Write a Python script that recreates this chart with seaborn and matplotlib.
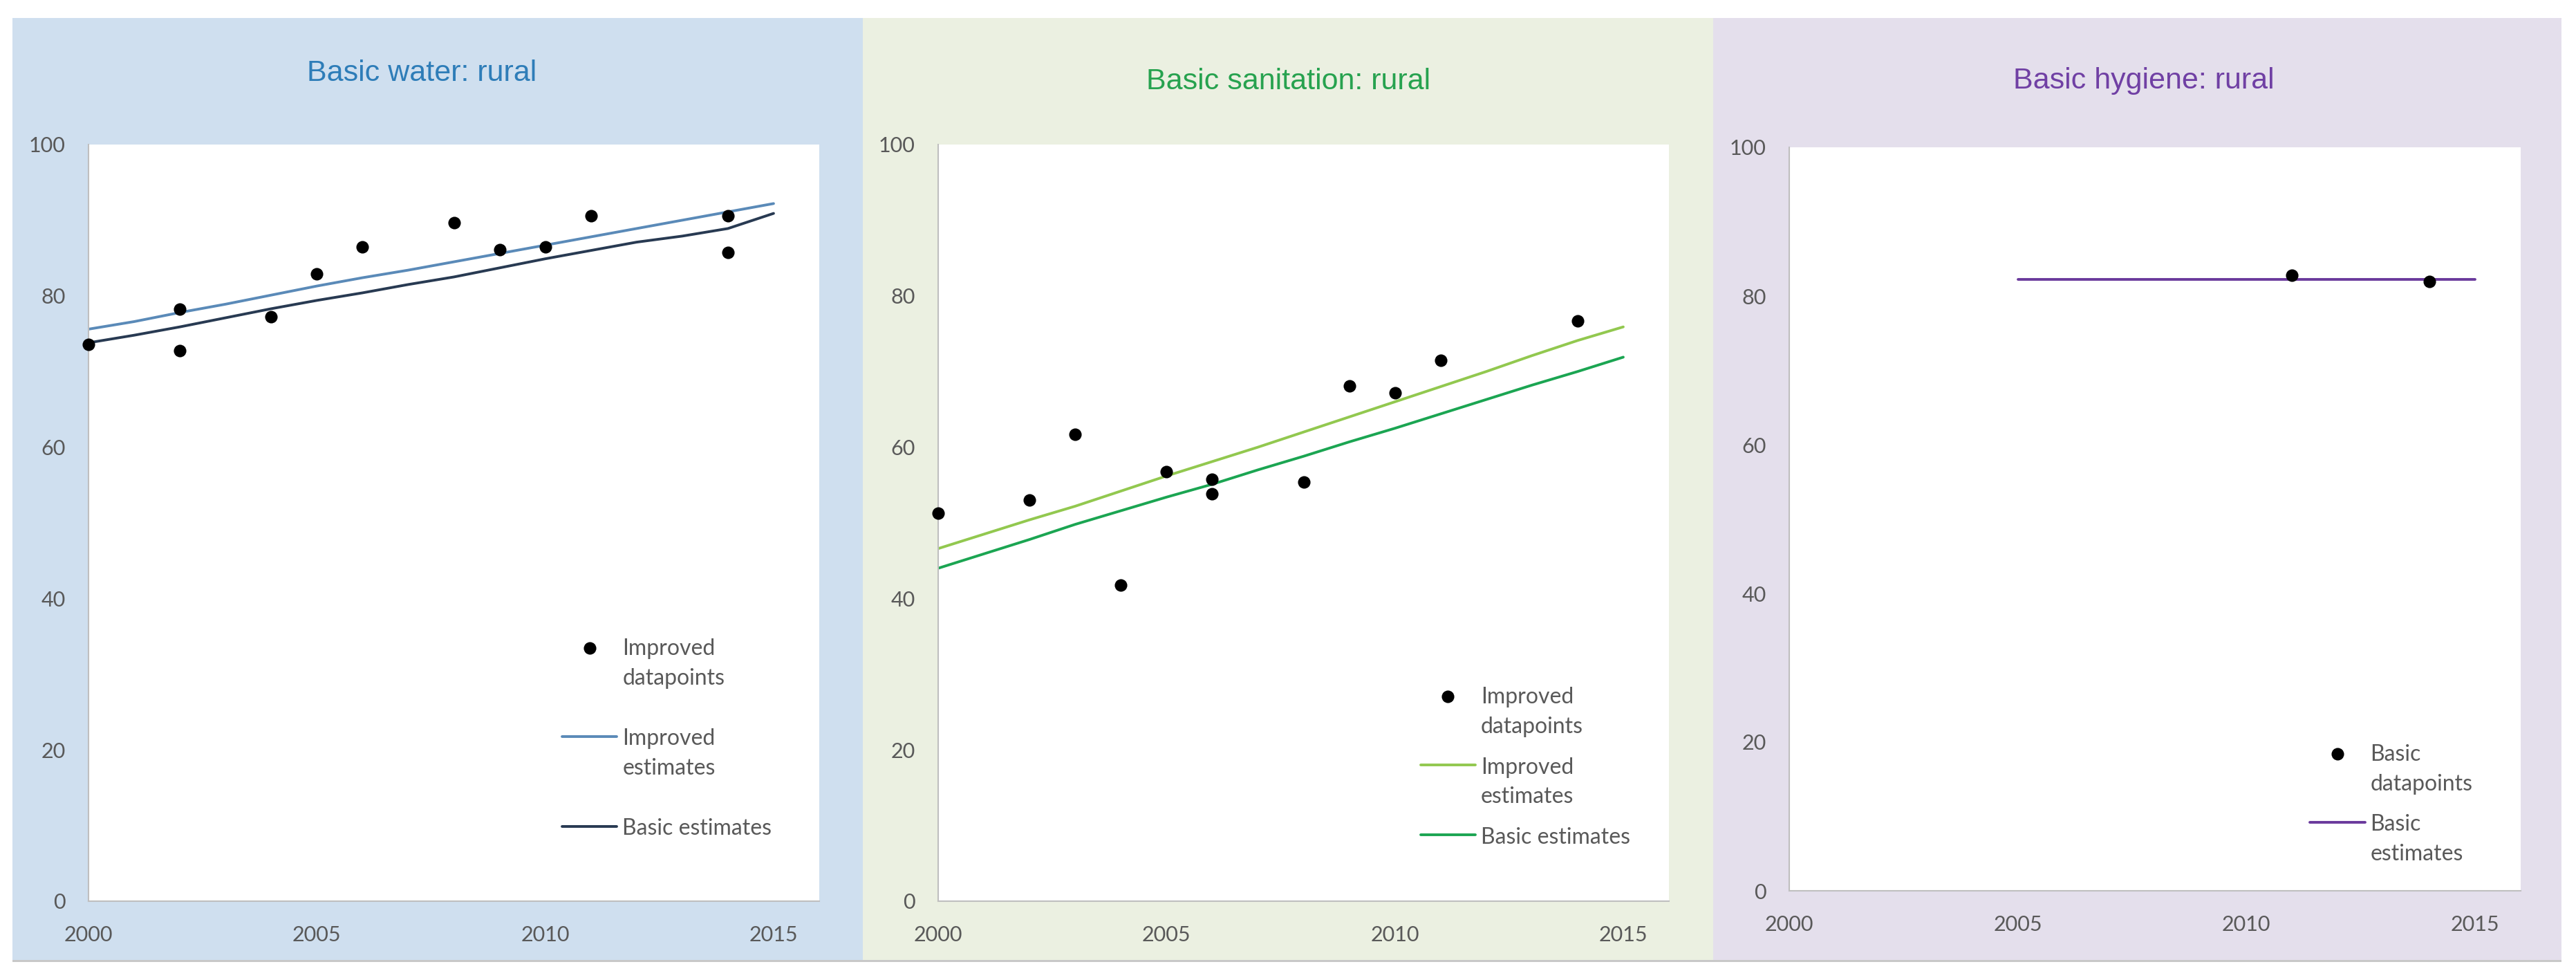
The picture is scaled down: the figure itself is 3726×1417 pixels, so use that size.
import matplotlib
matplotlib.use('Agg')
import matplotlib.pyplot as plt
import seaborn as sns
from matplotlib.patches import Rectangle

W, H = 3726, 1417

# --- data ---
est_years = [2000, 2001, 2002, 2003, 2004, 2005, 2006, 2007,
             2008, 2009, 2010, 2011, 2012, 2013, 2014, 2015]

water_pt_years = [2000, 2002, 2002, 2004, 2005, 2006, 2008, 2009, 2010, 2011, 2014, 2014]
water_pt_values = [73.6, 78.2, 72.8, 77.2, 82.9, 86.5, 89.7, 86.1, 86.5, 90.6, 90.6, 85.7]
water_improved = [75.6, 76.6, 77.8, 78.9, 80.1, 81.3, 82.4, 83.4,
                  84.5, 85.6, 86.7, 87.8, 88.9, 90.0, 91.1, 92.2]
water_basic = [73.8, 74.8, 75.9, 77.1, 78.3, 79.4, 80.4, 81.5,
               82.5, 83.7, 84.9, 86.0, 87.1, 87.9, 88.9, 90.9]

san_pt_years = [2000, 2002, 2003, 2004, 2005, 2006, 2006, 2008, 2009, 2010, 2011, 2014]
san_pt_values = [51.3, 53.0, 61.7, 41.8, 56.8, 55.8, 53.8, 55.4, 68.1, 67.2, 71.5, 76.7]
san_improved = [46.6, 48.5, 50.4, 52.2, 54.2, 56.2, 58.1, 60.0,
                62.0, 64.0, 66.0, 68.0, 70.0, 72.1, 74.1, 75.9]
san_basic = [44.0, 45.9, 47.8, 49.8, 51.6, 53.4, 55.1, 57.0,
             58.8, 60.7, 62.5, 64.4, 66.3, 68.2, 70.0, 71.9]

hyg_pt_years = [2011, 2014]
hyg_pt_values = [82.8, 82.0]
hyg_est_years = [2005, 2006, 2007, 2008, 2009, 2010, 2011, 2012, 2013, 2014, 2015]
hyg_basic = [82.2, 82.2, 82.2, 82.2, 82.2, 82.2, 82.2, 82.2, 82.2, 82.2, 82.2]

x_ticks = [2000, 2005, 2010, 2015]
y_ticks = [0, 20, 40, 60, 80, 100]

sns.set_style('white')
plt.rcParams['font.family'] = ['Lato', 'DejaVu Sans']

TICK_COLOR = '#595959'


def px_box(left, top, right, bottom):
    return [left / W, 1 - bottom / H, (right - left) / W, (bottom - top) / H]


fig = plt.figure(figsize=(W / 100, H / 100), dpi=100)

# panel backgrounds
panel_bgs = [(18, 1248, '#CFDFEF'), (1248, 2478, '#EBF0E1'), (2478, 3705, '#E4DFEC')]
for left, right, col in panel_bgs:
    fig.add_artist(Rectangle((left / W, 1 - 1388 / H), (right - left) / W, (1388 - 26) / H,
                             transform=fig.transFigure, facecolor=col, edgecolor='none', zorder=-2))
fig.add_artist(Rectangle((18 / W, 1 - 1391 / H), (3705 - 18) / W, 3 / H,
                         transform=fig.transFigure, facecolor='#C8C8C8', edgecolor='none', zorder=-2))


def style_axes(ax):
    ax.set_xlim(2000, 2016)
    ax.set_ylim(0, 100)
    ax.set_xticks(x_ticks)
    ax.set_yticks(y_ticks)
    ax.set_xlabel('')
    ax.set_ylabel('')
    ax.grid(False)
    ax.set_facecolor('white')
    for side in ['top', 'right']:
        ax.spines[side].set_visible(False)
    for side in ['left', 'bottom']:
        ax.spines[side].set_color('#BFBFBF')
        ax.spines[side].set_linewidth(1.5)
    ax.tick_params(axis='y', length=0, pad=24, labelsize=22, labelcolor=TICK_COLOR)
    ax.tick_params(axis='x', length=0, pad=25, labelsize=22, labelcolor=TICK_COLOR)


def add_legend(ax, anchor, spacing):
    leg = ax.legend(loc='upper left', bbox_to_anchor=anchor, frameon=False, fontsize=23,
                    handlelength=2.48, handletextpad=0.25, labelspacing=spacing,
                    borderpad=0, borderaxespad=0, labelcolor=TICK_COLOR)
    for t in leg.get_texts():
        t.set_linespacing(1.52)
    # put the key next to the first text line, like the original
    for col in leg._legend_handle_box.get_children():
        for row in col.get_children():
            row.align = 'top'
    return leg


# Panel 1: water
ax1 = fig.add_axes(px_box(128, 209, 1185, 1303))
sns.scatterplot(x=water_pt_years, y=water_pt_values, ax=ax1, color='black', s=170,
                linewidth=0, zorder=3, clip_on=False, label='Improved\ndatapoints')
sns.lineplot(x=est_years, y=water_improved, ax=ax1, color='#5A8AB8', linewidth=2.8,
             errorbar=None, label='Improved\nestimates')
sns.lineplot(x=est_years, y=water_basic, ax=ax1, color='#283A52', linewidth=2.8,
             errorbar=None, label='Basic estimates')
style_axes(ax1)
add_legend(ax1, (0.648, 0.347), 1.8)
fig.text(610 / W, 1 - 117 / H, 'Basic water: rural', ha='center', va='baseline',
         fontsize=31, color='#2E7DB8', family=['Liberation Sans', 'DejaVu Sans'])

# Panel 2: sanitation
ax2 = fig.add_axes(px_box(1357, 209, 2414, 1303))
sns.scatterplot(x=san_pt_years, y=san_pt_values, ax=ax2, color='black', s=170,
                linewidth=0, zorder=3, clip_on=False, label='Improved\ndatapoints')
sns.lineplot(x=est_years, y=san_improved, ax=ax2, color='#92C84F', linewidth=2.8,
             errorbar=None, label='Improved\nestimates')
sns.lineplot(x=est_years, y=san_basic, ax=ax2, color='#1BA552', linewidth=2.8,
             errorbar=None, label='Basic estimates')
style_axes(ax2)
add_legend(ax2, (0.660, 0.283), 0.9)
fig.text(1864 / W, 1 - 129 / H, 'Basic sanitation: rural', ha='center', va='baseline',
         fontsize=31, color='#27A24F', family=['Liberation Sans', 'DejaVu Sans'])

# Panel 3: hygiene
ax3 = fig.add_axes(px_box(2588, 213, 3646, 1288))
sns.scatterplot(x=hyg_pt_years, y=hyg_pt_values, ax=ax3, color='black', s=170,
                linewidth=0, zorder=3, clip_on=False, label='Basic\ndatapoints')
sns.lineplot(x=hyg_est_years, y=hyg_basic, ax=ax3, color='#6A3A9C', linewidth=2.8,
             errorbar=None, label='Basic\nestimates')
style_axes(ax3)
add_legend(ax3, (0.712, 0.197), 0.9)
fig.text(3101 / W, 1 - 128 / H, 'Basic hygiene: rural', ha='center', va='baseline',
         fontsize=31, color='#7040A4', family=['Liberation Sans', 'DejaVu Sans'])

fig.savefig('out.png', dpi=100)
